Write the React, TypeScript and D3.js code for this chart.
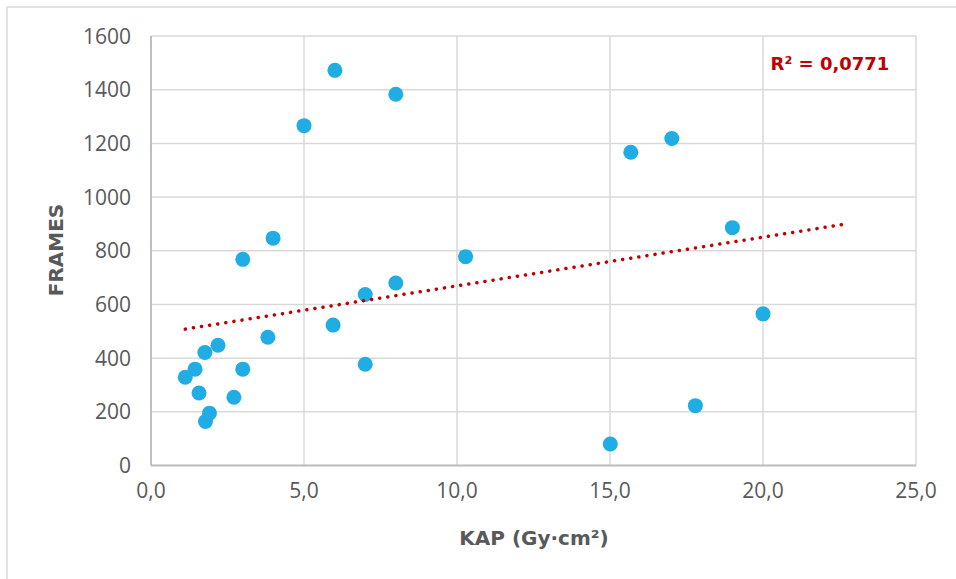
import React from "react";
import * as d3 from "d3";

const kapValues = [1.12, 1.44, 1.57, 1.76, 2.19, 1.78, 1.91, 2.71, 3.0, 3.0, 3.82, 3.99, 5.0, 6.01, 5.95, 7.0, 7.0, 8.0, 8.0, 10.28, 15.01, 15.68, 17.02, 17.79, 19.0, 20.0];
const frameValues = [329, 359, 270, 421, 448, 164, 195, 254, 359, 768, 478, 847, 1266, 1472, 523, 637, 377, 1383, 680, 778, 80, 1167, 1218, 223, 886, 565];
const xTicks = [0, 5, 10, 15, 20, 25];
const yTicks = [0, 200, 400, 600, 800, 1000, 1200, 1400, 1600];
const trendX = [1.12, 22.73];
const trendY = [508, 900];
const r2Label = "R² = 0,0771";
const xTitle = "KAP (Gy·cm²)";
const yTitle = "FRAMES";

const W = 956;
const H = 579;
const TICK_FONT = "'Open Sans', 'DejaVu Sans', sans-serif";
const BOLD_FONT = "'DejaVu Sans', 'Open Sans', sans-serif";

export default function App() {
  const x = d3.scaleLinear().domain([0, 25]).range([151, 916]);
  const y = d3.scaleLinear().domain([0, 1600]).range([465.5, 36]);
  const fmt = (v: number) => d3.format(".1f")(v).replace(".", ",");
  const trendPath = d3.line<number>()
    .x((_, i) => x(trendX[i]))
    .y((d) => y(d))(trendY) as string;

  return (
    <svg width={W} height={H} style={{ position: "absolute", left: 0, top: 0 }}>
      <rect x={0} y={0} width={W} height={H} fill="#fff" />
      <line x1={7} y1={7} x2={W} y2={7} stroke="#d9d9d9" strokeWidth={1.5} />
      <line x1={7} y1={7} x2={7} y2={H} stroke="#d9d9d9" strokeWidth={1.5} />
      {yTicks.map((t) => (
        <line key={"gy" + t} x1={x(0)} x2={x(25)} y1={y(t)} y2={y(t)} stroke="#d9d9d9" strokeWidth={1.5} />
      ))}
      {xTicks.map((t) => (
        <line key={"gx" + t} x1={x(t)} x2={x(t)} y1={y(0)} y2={y(1600)} stroke="#d9d9d9" strokeWidth={1.5} />
      ))}
      <line x1={x(0)} x2={x(0)} y1={y(0)} y2={y(1600)} stroke="#bfbfbf" strokeWidth={2} />
      <line x1={x(0)} x2={x(25)} y1={y(0)} y2={y(0)} stroke="#bfbfbf" strokeWidth={2} />
      {yTicks.map((t) => (
        <text key={"ly" + t} x={131} y={y(t)} dy="0.36em" textAnchor="end" fontFamily={TICK_FONT} fontSize={21} fill="#595959">
          {t}
        </text>
      ))}
      {xTicks.map((t) => (
        <text key={"lx" + t} x={x(t)} y={498} textAnchor="middle" fontFamily={TICK_FONT} fontSize={21} fill="#595959">
          {fmt(t)}
        </text>
      ))}
      <text x={534} y={545} textAnchor="middle" fontFamily={BOLD_FONT} fontSize={20} fontWeight="bold" fill="#595959">
        {xTitle}
      </text>
      <text transform={`translate(63,250) rotate(-90)`} textAnchor="middle" fontFamily={BOLD_FONT} fontSize={20} fontWeight="bold" fill="#595959">
        {yTitle}
      </text>
      {kapValues.map((k, i) => (
        <circle key={"p" + i} cx={x(k)} cy={y(frameValues[i])} r={7.5} fill="#1fade4" />
      ))}
      <path d={trendPath} fill="none" stroke="#c00000" strokeWidth={3.5} strokeLinecap="round" strokeDasharray="0.1 8.1" />
      <text x={830} y={69.5} textAnchor="middle" fontFamily={BOLD_FONT} fontSize={18} fontWeight="bold" fill="#c00000">
        {r2Label}
      </text>
    </svg>
  );
}
